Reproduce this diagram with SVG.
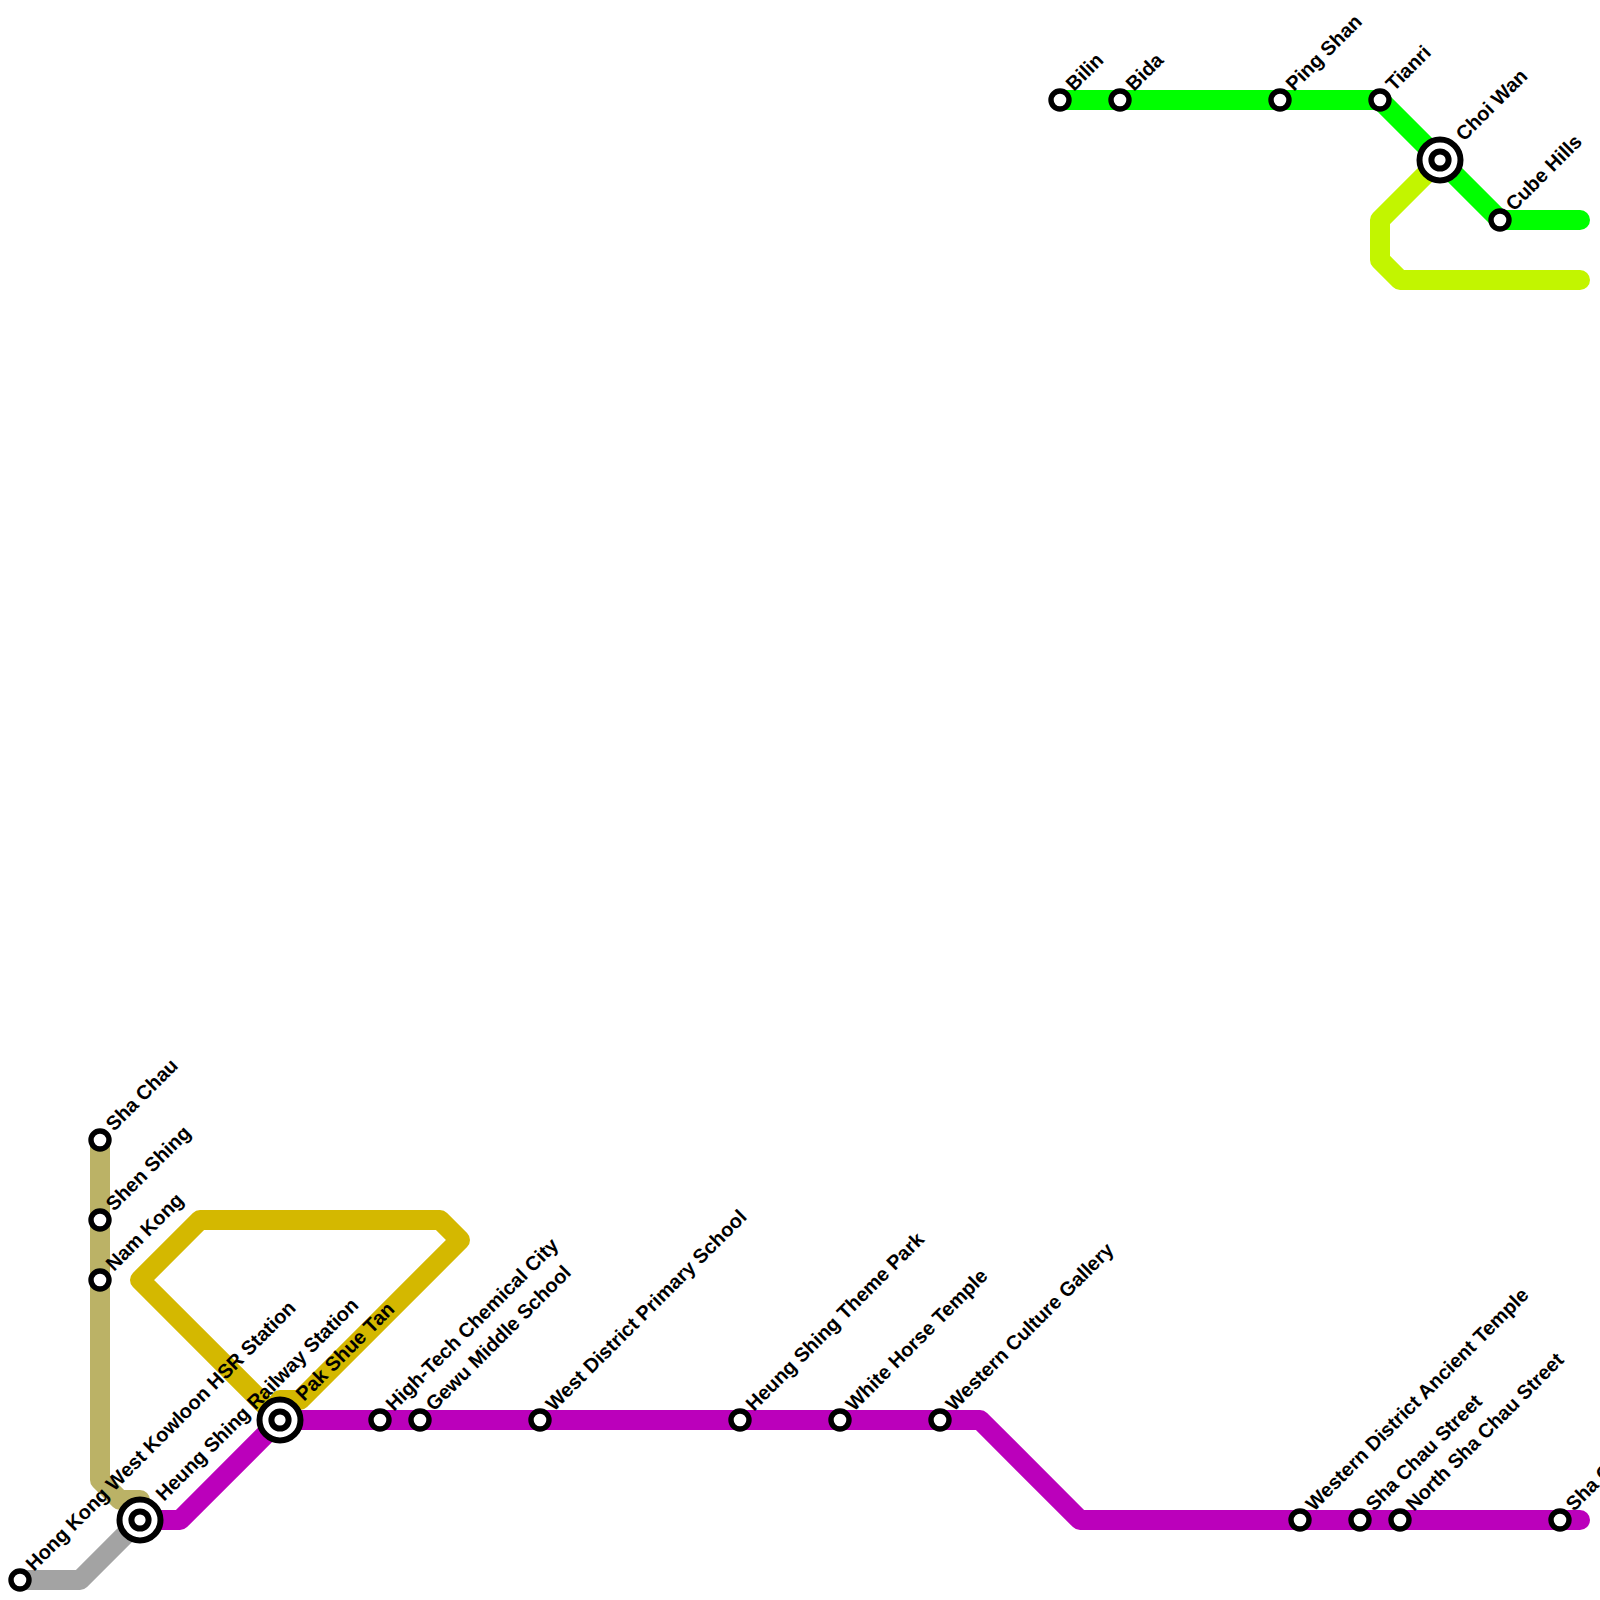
<svg xmlns="http://www.w3.org/2000/svg" width="1600" height="1600" viewBox="0 0 1600 1600">
<style>
.l{fill:none;stroke-width:20;stroke-linejoin:round;stroke-linecap:round}
.s{fill:#fff;stroke:#000;stroke-width:5.4}
.o{fill:#fff;stroke:#000;stroke-width:6}
text{font-family:"Liberation Sans",Arial,sans-serif;font-size:20px;font-weight:bold;fill:#000}
</style>
<defs>
<g id="st"><circle class="s" r="9"/></g>
<g id="ic"><circle class="o" r="20.5"/><circle class="o" r="8.6"/></g>
</defs>
<rect width="1600" height="1600" fill="#fff"/>
<g id="connectors">
<path class="l" stroke="#bbb266" d="M100 1140V1480L120 1500H140V1520"/>
<path class="l" stroke="#a3a3a3" d="M20 1580H80L140 1520"/>
<path class="l" stroke="#d4b800" d="M280 1420L140 1280L200 1220H440L460 1240L300 1400H280V1420"/>
<path class="l" stroke="#bb00bb" d="M140 1520H180L280 1420H980L1080 1520H1580"/>
<path class="l" stroke="#00ff00" d="M1060 100H1380L1500 220H1580"/>
<path class="l" stroke="#c2f500" d="M1440 160L1380 220V260L1400 280H1580"/>
</g>
<g id="n1"><use href="#st" x="100" y="1140"/><text transform="translate(114 1132) rotate(-45)">Sha Chau</text></g>
<g id="n2"><use href="#st" x="100" y="1220"/><text transform="translate(114 1212) rotate(-45)">Shen Shing</text></g>
<g id="n3"><use href="#st" x="100" y="1280"/><text transform="translate(114 1272) rotate(-45)">Nam Kong</text></g>
<g id="n4"><use href="#st" x="20" y="1580"/><text transform="translate(34 1572) rotate(-45)">Hong Kong West Kowloon HSR Station</text></g>
<g id="n5"><use href="#ic" x="140" y="1520"/><text transform="translate(164 1502) rotate(-45)">Heung Shing Railway Station</text></g>
<g id="n6"><use href="#ic" x="280" y="1420"/><text transform="translate(304 1402) rotate(-45)">Pak Shue Tan</text></g>
<g id="n7"><use href="#st" x="380" y="1420"/><text transform="translate(394 1412) rotate(-45)">High-Tech Chemical City</text></g>
<g id="n8"><use href="#st" x="420" y="1420"/><text transform="translate(434 1412) rotate(-45)">Gewu Middle School</text></g>
<g id="n9"><use href="#st" x="540" y="1420"/><text transform="translate(554 1412) rotate(-45)">West District Primary School</text></g>
<g id="n10"><use href="#st" x="740" y="1420"/><text transform="translate(754 1412) rotate(-45)">Heung Shing Theme Park</text></g>
<g id="n11"><use href="#st" x="840" y="1420"/><text transform="translate(854 1412) rotate(-45)">White Horse Temple</text></g>
<g id="n12"><use href="#st" x="940" y="1420"/><text transform="translate(954 1412) rotate(-45)">Western Culture Gallery</text></g>
<g id="n13"><use href="#st" x="1300" y="1520"/><text transform="translate(1314 1512) rotate(-45)">Western District Ancient Temple</text></g>
<g id="n14"><use href="#st" x="1360" y="1520"/><text transform="translate(1374 1512) rotate(-45)">Sha Chau Street</text></g>
<g id="n15"><use href="#st" x="1400" y="1520"/><text transform="translate(1414 1512) rotate(-45)">North Sha Chau Street</text></g>
<g id="n16"><use href="#st" x="1560" y="1520"/><text transform="translate(1574 1512) rotate(-45)">Sha C</text></g>
<g id="n17"><use href="#st" x="1060" y="100"/><text transform="translate(1074 92) rotate(-45)">Bilin</text></g>
<g id="n18"><use href="#st" x="1120" y="100"/><text transform="translate(1134 92) rotate(-45)">Bida</text></g>
<g id="n19"><use href="#st" x="1280" y="100"/><text transform="translate(1294 92) rotate(-45)">Ping Shan</text></g>
<g id="n20"><use href="#st" x="1380" y="100"/><text transform="translate(1394 92) rotate(-45)">Tianri</text></g>
<g id="n21"><use href="#ic" x="1440" y="160"/><text transform="translate(1464 142) rotate(-45)">Choi Wan</text></g>
<g id="n22"><use href="#st" x="1500" y="220"/><text transform="translate(1514 212) rotate(-45)">Cube Hills</text></g>
</svg>
